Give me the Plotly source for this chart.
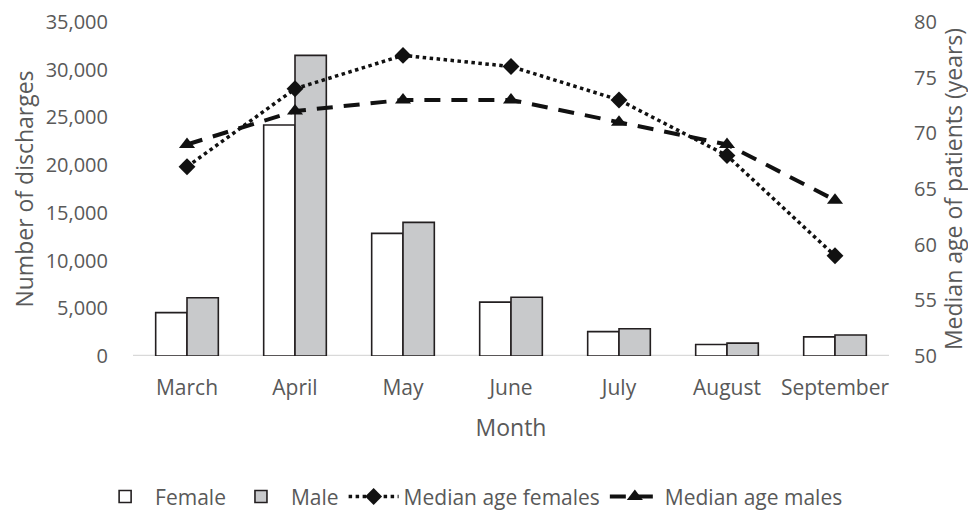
import plotly.graph_objects as go

months = ["March", "April", "May", "June", "July", "August", "September"]
female_discharges = [4550, 24200, 12850, 5650, 2550, 1200, 2000]
male_discharges = [6100, 31500, 14000, 6150, 2850, 1350, 2200]
median_age_females = [67, 74, 77, 76, 73, 68, 59]
median_age_males = [69, 72, 73, 73, 71, 69, 64]

FONT = "Open Sans"
GREY = "#595959"

fig = go.Figure()
fig.add_trace(go.Bar(x=months, y=female_discharges, name="Female",
                     marker=dict(color="white", line=dict(color="#231F20", width=1.6))))
fig.add_trace(go.Bar(x=months, y=male_discharges, name="Male",
                     marker=dict(color="#C8C9CB", line=dict(color="#231F20", width=1.6))))
fig.add_trace(go.Scatter(x=months, y=median_age_females, name="Median age females", yaxis="y2",
                         mode="lines+markers",
                         line=dict(color="#111111", width=3.5, dash="dot"),
                         marker=dict(symbol="diamond", size=13, color="#111111")))
fig.add_trace(go.Scatter(x=months, y=median_age_males, name="Median age males", yaxis="y2",
                         mode="lines+markers",
                         line=dict(color="#111111", width=4, dash="16px,11px"),
                         marker=dict(symbol="triangle-up", size=14, color="#111111")))

fig.update_layout(
    width=968, height=505,
    margin=dict(l=125, r=87, t=14, b=157, autoexpand=False),
    paper_bgcolor="white", plot_bgcolor="white",
    font=dict(family=FONT, color=GREY, size=21),
    barmode="group", bargap=0.42, bargroupgap=0,
    showlegend=True,
    legend=dict(orientation="h", x=0.09, xanchor="left", xref="container",
                y=0.032, yref="container",
                yanchor="middle", font=dict(size=21, color=GREY), itemwidth=50,
                traceorder="normal"),
    xaxis=dict(showgrid=False, ticks="outside", ticklen=13, tickcolor="rgba(0,0,0,0)",
               showline=False, automargin=False,
               title=dict(text="Month", font=dict(size=23, color=GREY), standoff=19),
               tickfont=dict(size=21, color=GREY)),
    yaxis=dict(range=[0, 35000], dtick=5000, tickformat=",", showgrid=False, zeroline=False,
               showline=False, ticks="outside", ticklen=20, tickcolor="rgba(0,0,0,0)",
               automargin=False, ticklabeloverflow="allow",
               title=dict(text="Number of discharges", font=dict(size=23, color=GREY), standoff=6),
               tickfont=dict(size=20, color=GREY)),
    yaxis2=dict(range=[50, 80], dtick=5, overlaying="y", side="right", showgrid=False,
                zeroline=False, showline=False, ticks="outside", ticklen=20,
                tickcolor="rgba(0,0,0,0)", automargin=False, ticklabeloverflow="allow",
                title=dict(text="Median age of patients (years)", font=dict(size=23, color=GREY),
                           standoff=10),
                tickfont=dict(size=20, color=GREY)),
)
fig.add_shape(type="line", xref="paper", yref="y", x0=0, x1=1, y0=0, y1=0,
              line=dict(color="#D9D9D9", width=2.5), layer="below")

fig.write_html("out.html")
